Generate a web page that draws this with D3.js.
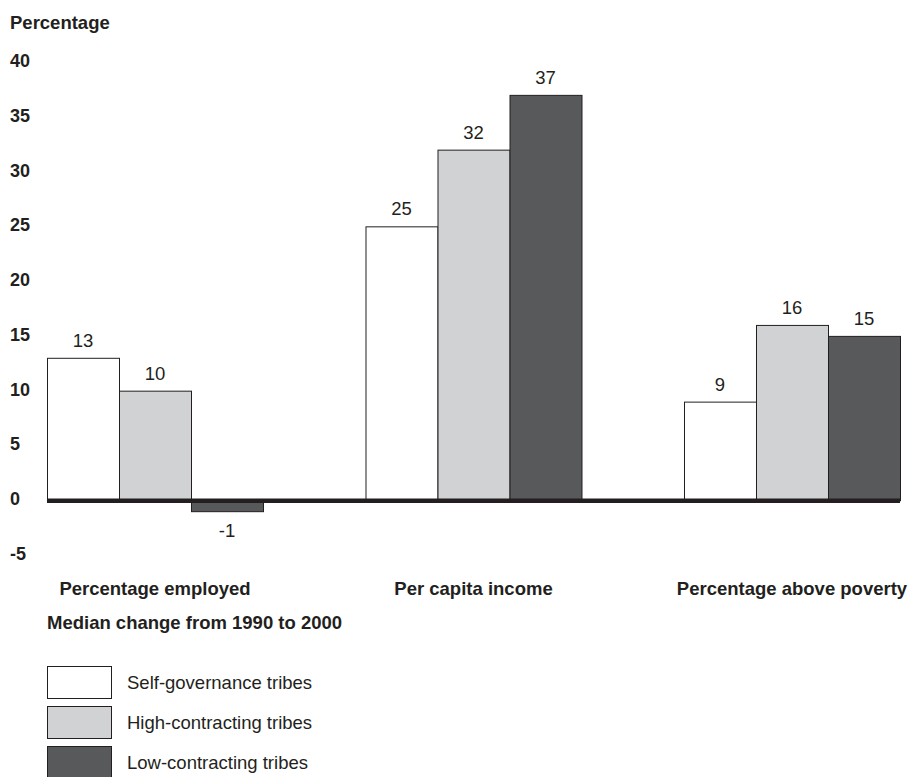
<!DOCTYPE html>
<html><head><meta charset="utf-8">
<script src="https://cdn.jsdelivr.net/npm/d3@7"></script>
<style>body{margin:0;background:#fff}svg{display:block;font-family:"Liberation Sans",Arial,sans-serif}</style>
</head><body><svg id="c" width="910" height="777"></svg>
<script>
const categories = ["Percentage employed","Per capita income","Percentage above poverty"];
const seriesNames = ["Self-governance tribes","High-contracting tribes","Low-contracting tribes"];
const selfGov = [13, 25, 9];
const highContr = [10, 32, 16];
const lowContr = [-1, 37, 15];
const yTicks = [40,35,30,25,20,15,10,5,0,-5];
const colors = ["#ffffff","#d1d2d4","#58595b"];
const ink = "#231f20";
const FS = 18.5;

const svg = d3.select("#c");
const series = [selfGov, highContr, lowContr];
const y = d3.scaleLinear().domain([-5,40]).range([555,62]);
const x0 = d3.scaleBand().domain(categories).range([47,900]).paddingInner(0.3218).paddingOuter(0);
const x1 = d3.scaleBand().domain(seriesNames).range([0,x0.bandwidth()]);

svg.append("text").attr("x",10).attr("y",29).attr("font-size",FS).attr("font-weight","bold").attr("fill",ink).text("Percentage");

const yAxis = svg.append("g").attr("transform","translate(10,-2)")
  .call(d3.axisLeft(y).tickValues(yTicks).tickSize(0).tickPadding(0).tickFormat(d=>String(d)));
yAxis.select(".domain").remove();
yAxis.selectAll("text").attr("text-anchor","start").attr("font-size",18).attr("font-weight","bold")
  .attr("fill",ink).attr("font-family","Liberation Sans, Arial, sans-serif").attr("dy","0.36em");

const groups = svg.append("g").selectAll("g").data(categories).join("g")
  .attr("transform",d=>`translate(${x0(d)},0)`);
groups.each(function(cat,ci){
  const g = d3.select(this);
  seriesNames.forEach((s,si)=>{
    const v = series[si][ci];
    g.append("rect").attr("x",x1(s)+0.5).attr("width",x1.bandwidth())
      .attr("y",Math.min(y(v),y(0))+0.5).attr("height",Math.abs(y(v)-y(0)))
      .attr("fill",colors[si]).attr("stroke",ink).attr("stroke-width",1);
    g.append("text").attr("x",x1(s)+x1.bandwidth()/2)
      .attr("y", v>=0 ? y(v)-11 : y(v)+26)
      .attr("text-anchor","middle").attr("font-size",FS).attr("fill",ink).text(v);
  });
});

svg.append("line").attr("x1",47).attr("x2",900).attr("y1",y(0)+0.5).attr("y2",y(0)+0.5)
  .attr("stroke",ink).attr("stroke-width",4.5);

svg.append("g").selectAll("text").data(categories).join("text")
  .attr("x",d=>x0(d)+x0.bandwidth()/2).attr("y",595).attr("text-anchor","middle")
  .attr("font-size",FS).attr("font-weight","bold").attr("fill",ink).text(d=>d);

svg.append("text").attr("x",47).attr("y",629).attr("font-size",FS).attr("font-weight","bold").attr("fill",ink)
  .text("Median change from 1990 to 2000");

const leg = svg.append("g").selectAll("g").data(seriesNames).join("g")
  .attr("transform",(d,i)=>`translate(47,${666+i*40})`);
leg.append("rect").attr("x",0.5).attr("y",0.5).attr("width",64).attr("height",32)
  .attr("fill",(d,i)=>colors[i]).attr("stroke",ink).attr("stroke-width",1);
leg.append("text").attr("x",80).attr("y",23).attr("font-size",FS).attr("fill",ink).text(d=>d);
</script></body></html>
